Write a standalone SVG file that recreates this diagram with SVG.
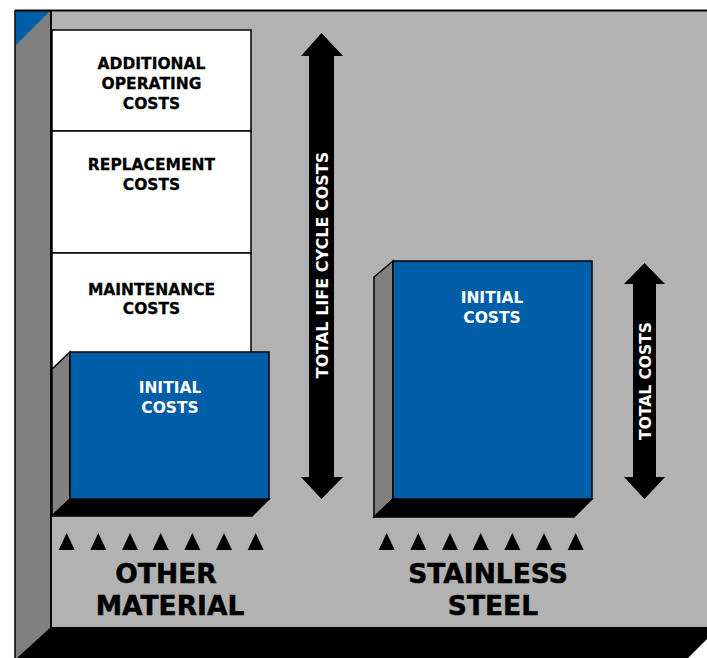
<svg xmlns="http://www.w3.org/2000/svg" width="707" height="658" viewBox="0 0 707 658">
<style>
.lbl{font-family:"DejaVu Sans","Liberation Sans",sans-serif;font-weight:bold;text-anchor:middle;}
.dark{fill:#000;font-size:15.5px;stroke:#000;stroke-width:0.3;}
.light{fill:#fff;font-size:15.5px;}
.big{fill:#000;font-size:26.5px;stroke:#000;stroke-width:0.5;}
.edge{stroke:#000;stroke-width:1.5;stroke-linejoin:miter;}
.blue{fill:#005da8;}
.side{fill:#808080;}
</style>
<defs>
<path id="tri" d="M0,0 L8,-17 L16,0 Z" fill="#000"/>
</defs>
<rect width="707" height="658" fill="#fff"/>
<g id="room">
<rect x="51" y="11" width="660" height="616" fill="#b2b2b2"/>
<rect x="15" y="11" width="36" height="650" class="side edge"/>
<polygon points="16,11 50,11 16,45" fill="#005da8"/>
<line x1="15" y1="10.5" x2="707" y2="10.5" stroke="#000" stroke-width="2"/>
<polygon points="51,627 719,627 688,658 17,658" fill="#000"/>
<line x1="51" y1="11" x2="51" y2="627" stroke="#000" stroke-width="1.5"/>
</g>
<g id="node-additional">
<rect x="52" y="30" width="199" height="101" fill="#fff" class="edge"/>
<text class="lbl dark" x="151.5" y="69">ADDITIONAL</text>
<text class="lbl dark" x="151.5" y="89">OPERATING</text>
<text class="lbl dark" x="151.5" y="109">COSTS</text>
</g>
<g id="node-replacement">
<rect x="52" y="131" width="199" height="122" fill="#fff" class="edge"/>
<text class="lbl dark" x="151.5" y="170">REPLACEMENT</text>
<text class="lbl dark" x="151.5" y="190">COSTS</text>
</g>
<g id="node-maintenance">
<rect x="52" y="253" width="199" height="117" fill="#fff" class="edge"/>
<text class="lbl dark" x="151.5" y="295">MAINTENANCE</text>
<text class="lbl dark" x="151.5" y="314">COSTS</text>
</g>
<g id="node-initial-other">
<polygon points="52,369 70,352 70,499 52,516" class="side edge"/>
<polygon points="52,516 70,499 269,499 252,516" fill="#000" class="edge"/>
<rect x="70" y="352" width="199" height="147" class="blue edge"/>
<text class="lbl light" x="170" y="393">INITIAL</text>
<text class="lbl light" x="170" y="413">COSTS</text>
</g>
<g id="node-initial-ss">
<polygon points="374,277 393,261 393,499 374,517" class="side edge"/>
<polygon points="374,517 393,499 592,499 574,517" fill="#000" class="edge"/>
<rect x="393" y="261" width="199" height="238" class="blue edge"/>
<text class="lbl light" x="492" y="303">INITIAL</text>
<text class="lbl light" x="492" y="323">COSTS</text>
</g>
<g id="connectors">
<polygon points="321.5,33 343,56 334,56 334,477 343,477 321.5,499 301,477 309,477 309,56 301,56" fill="#000"/>
<polygon points="644.5,263 665,284 656,284 656,477 665,477 644.5,499 624,477 633,477 633,284 624,284" fill="#000"/>
<text class="lbl light" style="font-size:16px" transform="translate(328,265) rotate(-90)">TOTAL LIFE CYCLE COSTS</text>
<text class="lbl light" transform="translate(651,381) rotate(-90)">TOTAL COSTS</text>
</g>
<g id="markers">
<use href="#tri" x="58.7" y="550"/>
<use href="#tri" x="90.3" y="550"/>
<use href="#tri" x="122" y="550"/>
<use href="#tri" x="152.7" y="550"/>
<use href="#tri" x="184.3" y="550"/>
<use href="#tri" x="216" y="550"/>
<use href="#tri" x="247.7" y="550"/>
<use href="#tri" x="378.7" y="550"/>
<use href="#tri" x="410.3" y="550"/>
<use href="#tri" x="442" y="550"/>
<use href="#tri" x="472.7" y="550"/>
<use href="#tri" x="504.3" y="550"/>
<use href="#tri" x="536" y="550"/>
<use href="#tri" x="567.7" y="550"/>
</g>
<g id="labels">
<text class="lbl big" x="166" y="583">OTHER</text>
<text class="lbl big" x="170" y="615">MATERIAL</text>
<text class="lbl big" x="488" y="583">STAINLESS</text>
<text class="lbl big" x="493" y="615">STEEL</text>
</g>
</svg>
